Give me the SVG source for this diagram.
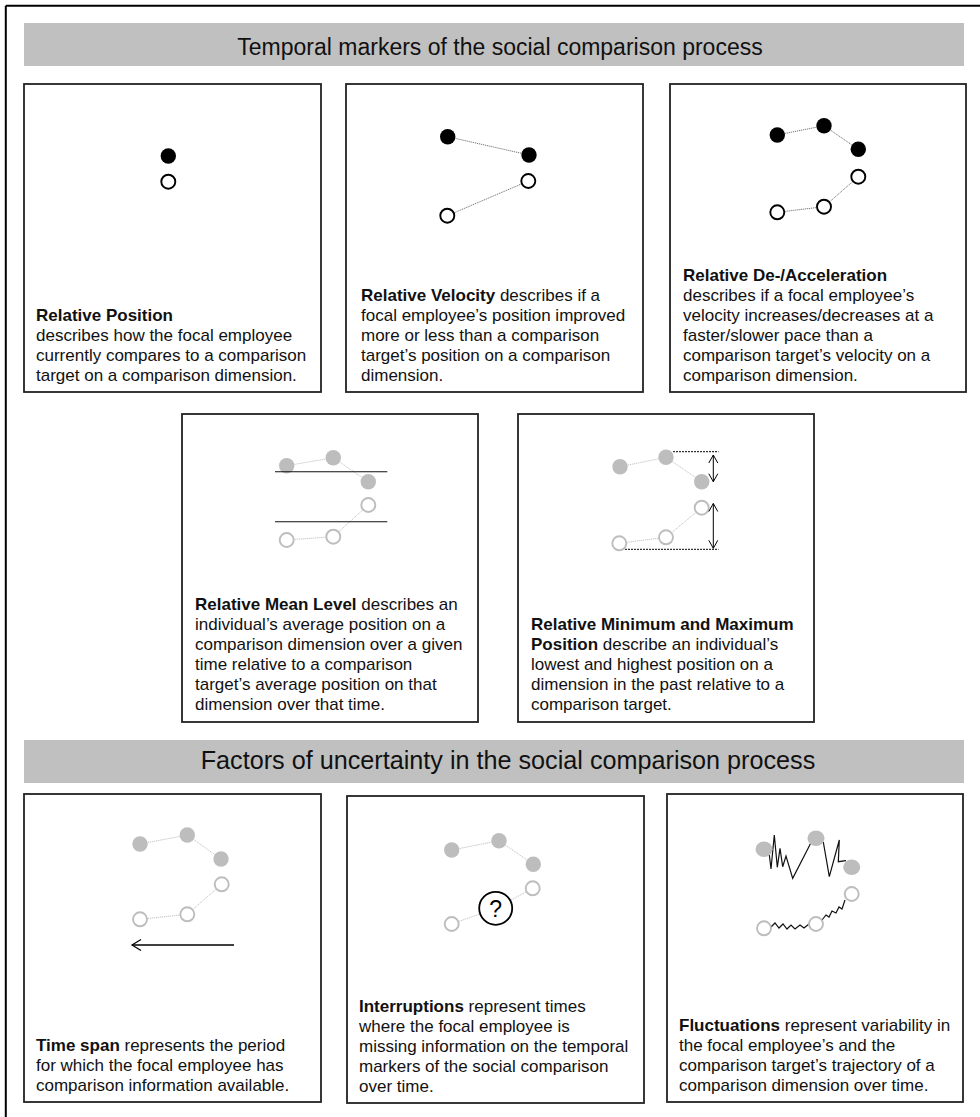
<svg xmlns="http://www.w3.org/2000/svg" width="980" height="1117" viewBox="0 0 980 1117">
<style>
.panel{fill:#fff;stroke:#222;stroke-width:1.8}
.band{fill:#c0c0c0}
.title{font-family:"Liberation Sans",Arial,sans-serif;fill:#111}
.txt{font-family:"Liberation Sans",Arial,sans-serif;font-size:17px;fill:#111}
.b{font-weight:bold}
.dk{fill:#000}
.op{fill:#fff;stroke:#000;stroke-width:1.9}
.gf{fill:#bdbdbd}
.go{fill:#fff;stroke:#bdbdbd;stroke-width:1.9}
.dotk{stroke:#777;stroke-width:1;stroke-dasharray:1.2 0.8;fill:none}
.dotg{stroke:#c4c4c4;stroke-width:1;stroke-dasharray:1.2 0.8;fill:none}
.dash{stroke:#000;stroke-width:1;stroke-dasharray:2 1;fill:none}
.zig{stroke:#111;stroke-width:1.2;fill:none;stroke-linejoin:miter}
</style>
<defs>
<marker id="vhead" markerUnits="userSpaceOnUse" markerWidth="12" markerHeight="14" refX="10" refY="7" orient="auto-start-reverse">
<path d="M1,1.5 L10,7 L1,12.5" fill="none" stroke="#000" stroke-width="1.2"/>
</marker>
<marker id="vhead2" markerUnits="userSpaceOnUse" markerWidth="12" markerHeight="14" refX="9" refY="7" orient="auto-start-reverse">
<path d="M1,2.5 L9,7 L1,11.5" fill="none" stroke="#000" stroke-width="1"/>
</marker>
</defs>
<rect width="980" height="1117" fill="#fff"/>
<g id="frame">
<line x1="5.8" y1="5.8" x2="980" y2="5.8" stroke="#000" stroke-width="2"/>
<line x1="5.8" y1="5.8" x2="5.8" y2="1117" stroke="#000" stroke-width="2"/>
</g>
<g id="header-temporal">
<rect class="band" x="24" y="23" width="940" height="43"/>
<text class="title" x="500" y="55" font-size="23" text-anchor="middle">Temporal markers of the social comparison process</text>
</g>
<g id="relative-position">
<rect class="panel" x="24" y="84" width="297" height="308"/>
<circle class="dk" cx="168.3" cy="156" r="7.7"/>
<circle class="op" cx="168.3" cy="181.7" r="7"/>
<text class="txt" x="36"><tspan class="b" x="36" y="321">Relative Position</tspan><tspan x="36" y="341">describes how the focal employee</tspan><tspan x="36" y="361">currently compares to a comparison</tspan><tspan x="36" y="381">target on a comparison dimension.</tspan></text>
</g>
<g id="relative-velocity">
<rect class="panel" x="346" y="84" width="297" height="308"/>
<line class="dotk" x1="447.7" y1="136.7" x2="529" y2="155"/>
<line class="dotk" x1="447.3" y1="215.7" x2="528.3" y2="181"/>
<circle class="dk" cx="447.7" cy="136.7" r="7.7"/>
<circle class="dk" cx="529" cy="155" r="7.7"/>
<circle class="op" cx="528.3" cy="181" r="7"/>
<circle class="op" cx="447.3" cy="215.7" r="7"/>
<text class="txt"><tspan x="361" y="301"><tspan class="b">Relative Velocity</tspan> describes if a</tspan><tspan x="361" y="321">focal employee’s position improved</tspan><tspan x="361" y="341">more or less than a comparison</tspan><tspan x="361" y="361">target’s position on a comparison</tspan><tspan x="361" y="381">dimension.</tspan></text>
</g>
<g id="relative-acceleration">
<rect class="panel" x="670" y="84" width="296" height="308"/>
<polyline class="dotk" points="777.3,135 824,125.7 858.3,149.3"/>
<polyline class="dotk" points="777.3,212.3 824,206.7 858.3,176.7"/>
<circle class="dk" cx="777.3" cy="135" r="7.7"/>
<circle class="dk" cx="824" cy="125.7" r="7.7"/>
<circle class="dk" cx="858.3" cy="149.3" r="7.7"/>
<circle class="op" cx="858.3" cy="176.7" r="7"/>
<circle class="op" cx="824" cy="206.7" r="7"/>
<circle class="op" cx="777.3" cy="212.3" r="7"/>
<text class="txt"><tspan class="b" x="683" y="281">Relative De-/Acceleration</tspan><tspan x="683" y="301">describes if a focal employee’s</tspan><tspan x="683" y="321">velocity increases/decreases at a</tspan><tspan x="683" y="341">faster/slower pace than a</tspan><tspan x="683" y="361">comparison target’s velocity on a</tspan><tspan x="683" y="381">comparison dimension.</tspan></text>
</g>
<g id="relative-mean-level">
<rect class="panel" x="182" y="414" width="296" height="308"/>
<polyline class="dotg" points="286.7,465.7 333.3,457.7 368.3,481.7"/>
<polyline class="dotg" points="286.7,540 333.3,536.7 368.3,505"/>
<circle class="gf" cx="286.7" cy="465.7" r="7.7"/>
<circle class="gf" cx="333.3" cy="457.7" r="7.7"/>
<circle class="gf" cx="368.3" cy="481.7" r="7.7"/>
<circle class="go" cx="368.3" cy="505" r="7"/>
<circle class="go" cx="333.3" cy="536.7" r="7"/>
<circle class="go" cx="286.7" cy="540" r="7"/>
<line x1="275" y1="471.7" x2="387.3" y2="471.7" stroke="#111" stroke-width="1.1"/>
<line x1="275" y1="521.7" x2="387.3" y2="521.7" stroke="#111" stroke-width="1.1"/>
<text class="txt"><tspan x="195" y="610"><tspan class="b">Relative Mean Level</tspan> describes an</tspan><tspan x="195" y="630">individual’s average position on a</tspan><tspan x="195" y="650">comparison dimension over a given</tspan><tspan x="195" y="670">time relative to a comparison</tspan><tspan x="195" y="690">target’s average position on that</tspan><tspan x="195" y="710">dimension over that time.</tspan></text>
</g>
<g id="relative-min-max">
<rect class="panel" x="518" y="414" width="296" height="308"/>
<polyline class="dotg" points="620,466.7 666,457.3 701.7,481.7"/>
<polyline class="dotg" points="619.3,543.3 666,537.3 701.7,507.7"/>
<line class="dash" x1="673" y1="451.7" x2="718.5" y2="451.7"/>
<line class="dash" x1="625" y1="549.3" x2="718.5" y2="549.3"/>
<circle class="gf" cx="620" cy="466.7" r="7.7"/>
<circle class="gf" cx="666" cy="457.3" r="7.7"/>
<circle class="gf" cx="701.7" cy="481.7" r="7.7"/>
<circle class="go" cx="701.7" cy="507.7" r="7"/>
<circle class="go" cx="666" cy="537.3" r="7"/>
<circle class="go" cx="619.3" cy="543.3" r="7"/>
<line x1="713.3" y1="455" x2="713.3" y2="481.7" stroke="#000" stroke-width="1" marker-start="url(#vhead2)" marker-end="url(#vhead2)"/>
<line x1="713.3" y1="503.5" x2="713.3" y2="548.3" stroke="#000" stroke-width="1" marker-start="url(#vhead2)" marker-end="url(#vhead2)"/>
<text class="txt"><tspan class="b" x="531" y="630">Relative Minimum and Maximum</tspan><tspan x="531" y="650"><tspan class="b">Position</tspan> describe an individual’s</tspan><tspan x="531" y="670">lowest and highest position on a</tspan><tspan x="531" y="690">dimension in the past relative to a</tspan><tspan x="531" y="710">comparison target.</tspan></text>
</g>
<g id="header-uncertainty">
<rect class="band" x="24" y="740" width="940" height="43"/>
<text class="title" x="508" y="768.5" font-size="25.2" text-anchor="middle">Factors of uncertainty in the social comparison process</text>
</g>
<g id="time-span">
<rect class="panel" x="24" y="794" width="297" height="308"/>
<polyline class="dotg" points="140,844 187.3,835 221,859"/>
<polyline class="dotg" points="140,919.3 187.3,914.3 221.7,884.3"/>
<circle class="gf" cx="140" cy="844" r="7.7"/>
<circle class="gf" cx="187.3" cy="835" r="7.7"/>
<circle class="gf" cx="221" cy="859" r="7.7"/>
<circle class="go" cx="221.7" cy="884.3" r="7"/>
<circle class="go" cx="187.3" cy="914.3" r="7"/>
<circle class="go" cx="140" cy="919.3" r="7"/>
<line x1="234" y1="945" x2="132" y2="945" stroke="#000" stroke-width="1.7" marker-end="url(#vhead)"/>
<text class="txt"><tspan x="36" y="1051"><tspan class="b">Time span</tspan> represents the period</tspan><tspan x="36" y="1071">for which the focal employee has</tspan><tspan x="36" y="1091">comparison information available.</tspan></text>
</g>
<g id="interruptions">
<rect class="panel" x="347" y="796" width="297" height="307"/>
<polyline class="dotg" points="451.7,850 499,840.7 533.3,864.3"/>
<polyline class="dotg" points="451.7,924 495.7,908.3 532.7,888.3"/>
<circle class="gf" cx="451.7" cy="850" r="7.7"/>
<circle class="gf" cx="499" cy="840.7" r="7.7"/>
<circle class="gf" cx="533.3" cy="864.3" r="7.7"/>
<circle class="go" cx="532.7" cy="888.3" r="7"/>
<circle class="go" cx="451.7" cy="924" r="7"/>
<circle cx="495.7" cy="908.3" r="16.5" fill="#fff" stroke="#000" stroke-width="1.8"/>
<text x="495.7" y="916.5" font-family="Liberation Sans, Arial, sans-serif" font-size="23" text-anchor="middle" fill="#000">?</text>
<text class="txt"><tspan x="359" y="1012"><tspan class="b">Interruptions</tspan> represent times</tspan><tspan x="359" y="1032">where the focal employee is</tspan><tspan x="359" y="1052">missing information on the temporal</tspan><tspan x="359" y="1072">markers of the social comparison</tspan><tspan x="359" y="1092">over time.</tspan></text>
</g>
<g id="fluctuations">
<rect class="panel" x="667" y="794" width="296" height="308"/>
<polyline class="zig" points="769,852 771,869 774.3,835 777.3,867.3 780,848.3 782.7,866.7 786,856 792.7,878.3 810.7,843.3"/>
<polyline class="zig" points="823.3,842 829.3,876.7 839.3,840 838.3,861.7 846,860.7"/>
<polyline class="zig" points="771,927 775,923 779,928 783,924 787,929 791,925 795,929 800,925 804,928 809,924"/>
<polyline class="zig" points="822,920 826,915 829,917 832,911 836,913 839,907 842,909 845,900"/>
<ellipse class="gf" cx="764" cy="849.3" rx="8.5" ry="7.7"/>
<ellipse class="gf" cx="816" cy="838.3" rx="8.5" ry="7.7"/>
<ellipse class="gf" cx="851.7" cy="867.3" rx="8.5" ry="7.7"/>
<circle class="go" cx="851.7" cy="894" r="7"/>
<circle class="go" cx="816" cy="924" r="7"/>
<circle class="go" cx="764" cy="928.3" r="7"/>
<text class="txt"><tspan x="679" y="1031"><tspan class="b">Fluctuations</tspan> represent variability in</tspan><tspan x="679" y="1051">the focal employee’s and the</tspan><tspan x="679" y="1071">comparison target’s trajectory of a</tspan><tspan x="679" y="1091">comparison dimension over time.</tspan></text>
</g>
</svg>
